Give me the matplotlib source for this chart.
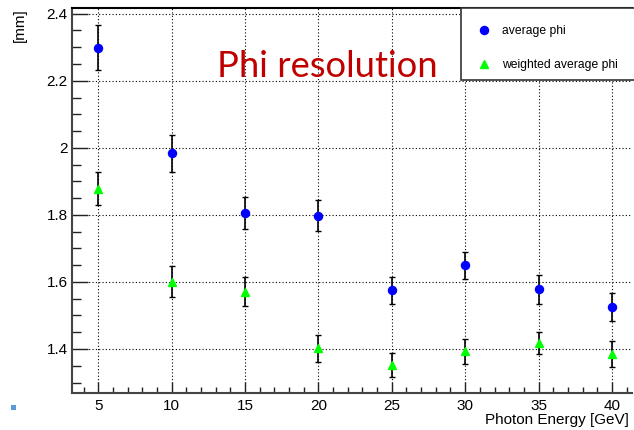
import matplotlib
matplotlib.use("Agg")
import matplotlib.pyplot as plt
from matplotlib.ticker import MultipleLocator, FixedLocator
from matplotlib.patches import Rectangle
from matplotlib.lines import Line2D

# Data
energy = [5, 10, 15, 20, 25, 30, 35, 40]
avg_phi = [2.298, 1.984, 1.806, 1.798, 1.575, 1.649, 1.578, 1.525]
avg_phi_err = [0.067, 0.055, 0.048, 0.047, 0.040, 0.040, 0.043, 0.042]
wavg_phi = [1.878, 1.600, 1.571, 1.402, 1.353, 1.393, 1.418, 1.385]
wavg_phi_err = [0.050, 0.046, 0.044, 0.041, 0.036, 0.037, 0.034, 0.039]
y_ticks = [1.4, 1.6, 1.8, 2.0, 2.2, 2.4]
y_tick_labels = ["1.4", "1.6", "1.8", "2", "2.2", "2.4"]
x_ticks = [5, 10, 15, 20, 25, 30, 35, 40]

W, H = 634, 430
fig = plt.figure(figsize=(W / 100, H / 100), dpi=100)
plt.rcParams['font.family'] = ['Liberation Sans', 'DejaVu Sans']

ax = fig.add_axes([72 / W, 1 - 393 / H, (632 - 72) / W, (393 - 8) / H])
ax.set_xlim(3.205, 41.37)
ax.set_ylim(1.2687, 2.417)

ax.errorbar(energy, avg_phi, yerr=avg_phi_err, fmt='o', color='#0000ff',
            ms=5.8, ecolor='black', elinewidth=1.2, capsize=2.5, capthick=1.0,
            zorder=3)
ax.errorbar(energy, wavg_phi, yerr=wavg_phi_err, fmt='^', color='#00ff00',
            ms=6, ecolor='black', elinewidth=1.2, capsize=2.5, capthick=1.0,
            zorder=3)

ax.yaxis.set_major_locator(FixedLocator(y_ticks))
ax.set_yticklabels(y_tick_labels)
ax.yaxis.set_minor_locator(MultipleLocator(0.05))
ax.xaxis.set_major_locator(FixedLocator(x_ticks))
ax.xaxis.set_minor_locator(MultipleLocator(1))

ax.tick_params(axis='y', which='major', direction='in', length=11.5, width=1.0,
               labelsize=11, pad=3, color='#222222')
ax.tick_params(axis='y', which='minor', direction='in', length=6.5, width=1.0,
               color='#222222')
ax.tick_params(axis='x', which='major', direction='in', length=8, width=1.0,
               labelsize=11, pad=4, color='#222222')
ax.tick_params(axis='x', which='minor', direction='in', length=4.3, width=1.0,
               color='#222222')
ax.tick_params(top=False, right=False, which='both')

ax.grid(True, which='major', color='black', linestyle=(0, (1, 2)), linewidth=0.8)
ax.set_axisbelow(True)

for s in ['left', 'bottom']:
    ax.spines[s].set_color('#444444')
    ax.spines[s].set_linewidth(1.5)
ax.spines['top'].set_color('black')
ax.spines['top'].set_linewidth(1.5)
ax.spines['right'].set_visible(False)

# Legend box
fig.patches.append(Rectangle((461 / W, 1 - 80 / H), (W - 461) / W + 0.01, 72 / H,
                             transform=fig.transFigure, fill=True,
                             facecolor='white', edgecolor='#333333', lw=1.2,
                             zorder=5))
handles = [Line2D([], [], linestyle='none', marker='o', color='#0000ff', ms=5.8),
           Line2D([], [], linestyle='none', marker='^', color='#00ff00', ms=6)]
leg = fig.legend(handles, ['average phi', 'weighted average phi'],
                 loc='upper left', bbox_to_anchor=(466 / W, 1 - 14 / H),
                 frameon=False, fontsize=8.7, labelspacing=1.85,
                 handletextpad=0.9, handlelength=1.2)
leg.set_zorder(6)

# Title
fig.text(217 / W, 1 - 77 / H, 'Phi resolution', color='#c00000',
         fontsize=26.2, family=['Lato', 'DejaVu Sans'], ha='left', va='baseline')

# Axis labels
fig.text(20 / W, 1 - 8 / H, '[mm]', rotation=90, ha='center', va='top', fontsize=11)
fig.text(629 / W, 1 - 420 / H, 'Photon Energy [GeV]', ha='right', va='center',
         fontsize=11)

# Small square
fig.patches.append(Rectangle((11 / W, 1 - 410 / H), 5 / W, 5 / H,
                             transform=fig.transFigure, facecolor='#5b9bd5',
                             edgecolor='none'))

fig.savefig('out.png', dpi=100)
